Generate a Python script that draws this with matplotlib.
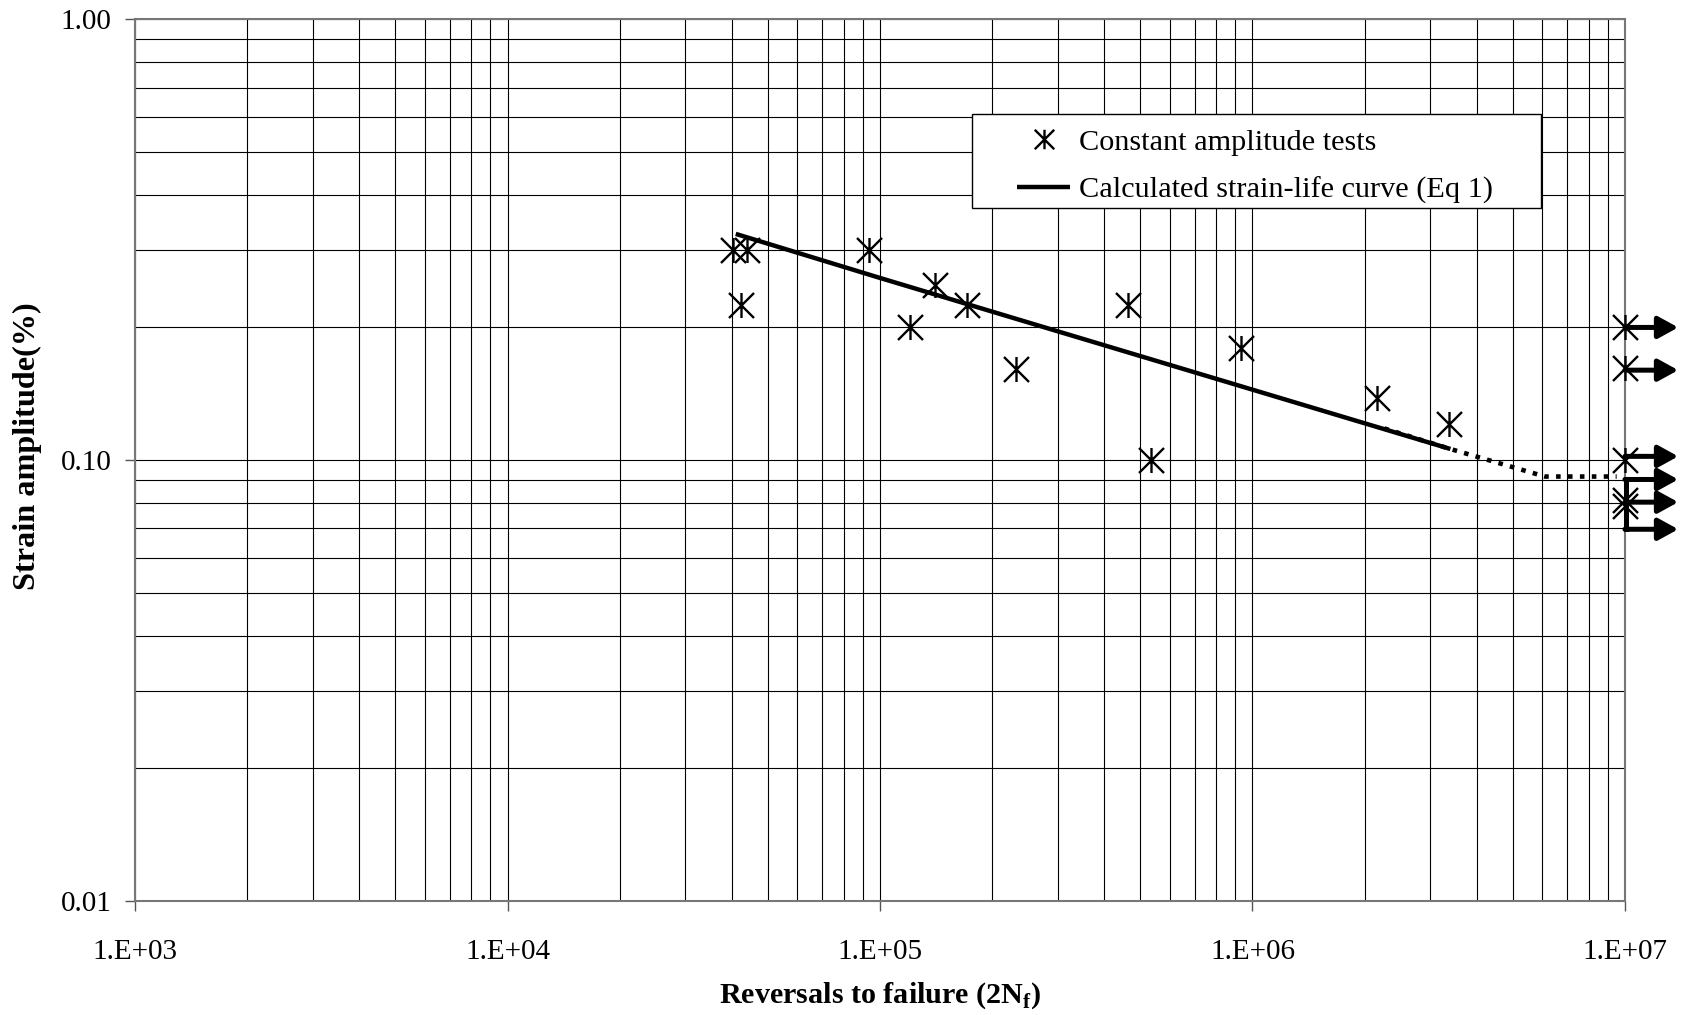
import numpy as np
import matplotlib
matplotlib.use("Agg")
import matplotlib.pyplot as plt
from matplotlib.path import Path
from matplotlib.patches import Rectangle
from matplotlib.ticker import LogLocator, FuncFormatter, NullFormatter

plt.rcParams['font.family'] = ['Liberation Serif', 'DejaVu Serif']
plt.rcParams['mathtext.fontset'] = 'custom'
plt.rcParams['mathtext.rm'] = 'Liberation Serif'
plt.rcParams['mathtext.bf'] = 'Liberation Serif:bold'

# tests that failed
failed_cycles = [40400, 44000, 42400, 93300, 140200, 120600, 171500, 231800,
                 463000, 535000, 929000, 2160000, 3370000]
failed_strain = [0.30, 0.30, 0.225, 0.30, 0.25, 0.20, 0.225, 0.161,
                 0.225, 0.10, 0.18, 0.138, 0.121]

# run-outs (stopped at 1e7 reversals)
runout_cycles = [1e7, 1e7, 1e7, 1e7, 1e7]
runout_strain = [0.20, 0.162, 0.10, 0.081, 0.0785]
arrow_strain = [0.20, 0.16, 0.102]
bracket_strain = [0.0904, 0.0803, 0.0697]

# calculated strain-life curve (Eq 1)
curve_x = [41000, 1e5, 3e5, 1e6, 3.4e6]
curve_y = [0.326, 0.259, 0.196, 0.1445, 0.106]
# extrapolated part down to the fatigue limit
extrap_x = [2.26e6, 3.4e6, 6.1e6, 9.5e6]
extrap_y = [0.118, 0.106, 0.0918, 0.0918]

# excel-like asterisk: X plus vertical bar
star = Path([(-1, -1), (1, 1), (-1, 1), (1, -1), (0, -1), (0, 1)],
            [Path.MOVETO, Path.LINETO, Path.MOVETO, Path.LINETO, Path.MOVETO, Path.LINETO])

fig, ax = plt.subplots(figsize=(16.9, 10.15), dpi=100)
fig.subplots_adjust(left=0.0799, right=0.9615, bottom=0.1123, top=0.981)

ax.set_xscale('log')
ax.set_yscale('log')
ax.set_xlim(1e3, 1e7)
ax.set_ylim(0.01, 1.0)

ax.xaxis.set_major_locator(LogLocator(base=10))
ax.xaxis.set_minor_locator(LogLocator(base=10, subs=np.arange(2, 10)))
ax.yaxis.set_major_locator(LogLocator(base=10))
ax.yaxis.set_minor_locator(LogLocator(base=10, subs=np.arange(2, 10)))
ax.xaxis.set_major_formatter(FuncFormatter(lambda v, p: "1.E+%02d" % int(round(np.log10(v)))))
ax.yaxis.set_major_formatter(FuncFormatter(lambda v, p: "%.2f" % v))
ax.xaxis.set_minor_formatter(NullFormatter())
ax.yaxis.set_minor_formatter(NullFormatter())

ax.grid(True, which='both', color='black', linewidth=0.8)
ax.set_axisbelow(True)
ax.tick_params(which='minor', length=0)
ax.tick_params(axis='x', which='major', length=7, width=1, pad=20, labelsize=21, color='#555555')
ax.tick_params(axis='y', which='major', length=7, width=1, pad=10, labelsize=21, color='#555555')
for sp in ax.spines.values():
    sp.set_color('#777777')
    sp.set_linewidth(1.5)

ax.plot(curve_x, curve_y, color='black', linewidth=3.2, solid_capstyle='butt',
        label='Calculated strain-life curve (Eq 1)', zorder=3)
ax.plot(extrap_x, extrap_y, color='black', linewidth=3.3, linestyle=(0, (1.0, 1.6)),
        dash_capstyle='butt', zorder=3)

ax.plot(failed_cycles, failed_strain, linestyle='none', marker=star, markersize=18,
        markeredgewidth=1.7, color='black', label='Constant amplitude tests', zorder=4)
ax.plot(runout_cycles, runout_strain, linestyle='none', marker=star, markersize=18,
        markeredgewidth=1.7, color='black', zorder=4, clip_on=False)

arrow_end = 1.39e7
for y in arrow_strain + bracket_strain:
    ax.annotate('', xy=(arrow_end, y), xytext=(1e7, y),
                arrowprops=dict(arrowstyle='-|>,head_length=0.6,head_width=0.33',
                                lw=3.6, color='black', mutation_scale=20,
                                shrinkA=0, shrinkB=0),
                annotation_clip=False, zorder=5)
ax.plot([1.005e7, 1.005e7], [min(bracket_strain), max(bracket_strain)],
        color='black', linewidth=3.6, solid_capstyle='projecting', clip_on=False, zorder=5)

# legend box
ax.add_patch(Rectangle((0.5617, 0.7857), 0.3819, 0.1066, transform=ax.transAxes,
                       facecolor='white', edgecolor='black', linewidth=1, zorder=6))
handles, labels = ax.get_legend_handles_labels()
leg = ax.legend(handles[::-1], labels[::-1], loc='center left',
                bbox_to_anchor=(0.592, 0.8335), frameon=False, fontsize=21.8,
                borderpad=0, borderaxespad=0, handlelength=1.75, handletextpad=0.3,
                labelspacing=0.68, numpoints=1)
leg.set_zorder(7)
leg.legend_handles[0].set_markersize(14)

ax.set_xlabel(r'Reversals to failure (2N$_\mathbf{f}$)', fontsize=21.7, fontweight='bold')
ax.set_ylabel('Strain amplitude(%)', fontsize=23.2, fontweight='bold')
ax.xaxis.set_label_coords(0.5, -0.107)
ax.xaxis.label.set_verticalalignment('center')
ax.yaxis.set_label_coords(-0.0725, 0.516)
ax.yaxis.label.set_verticalalignment('center')

fig.savefig('out.png', dpi=100)
